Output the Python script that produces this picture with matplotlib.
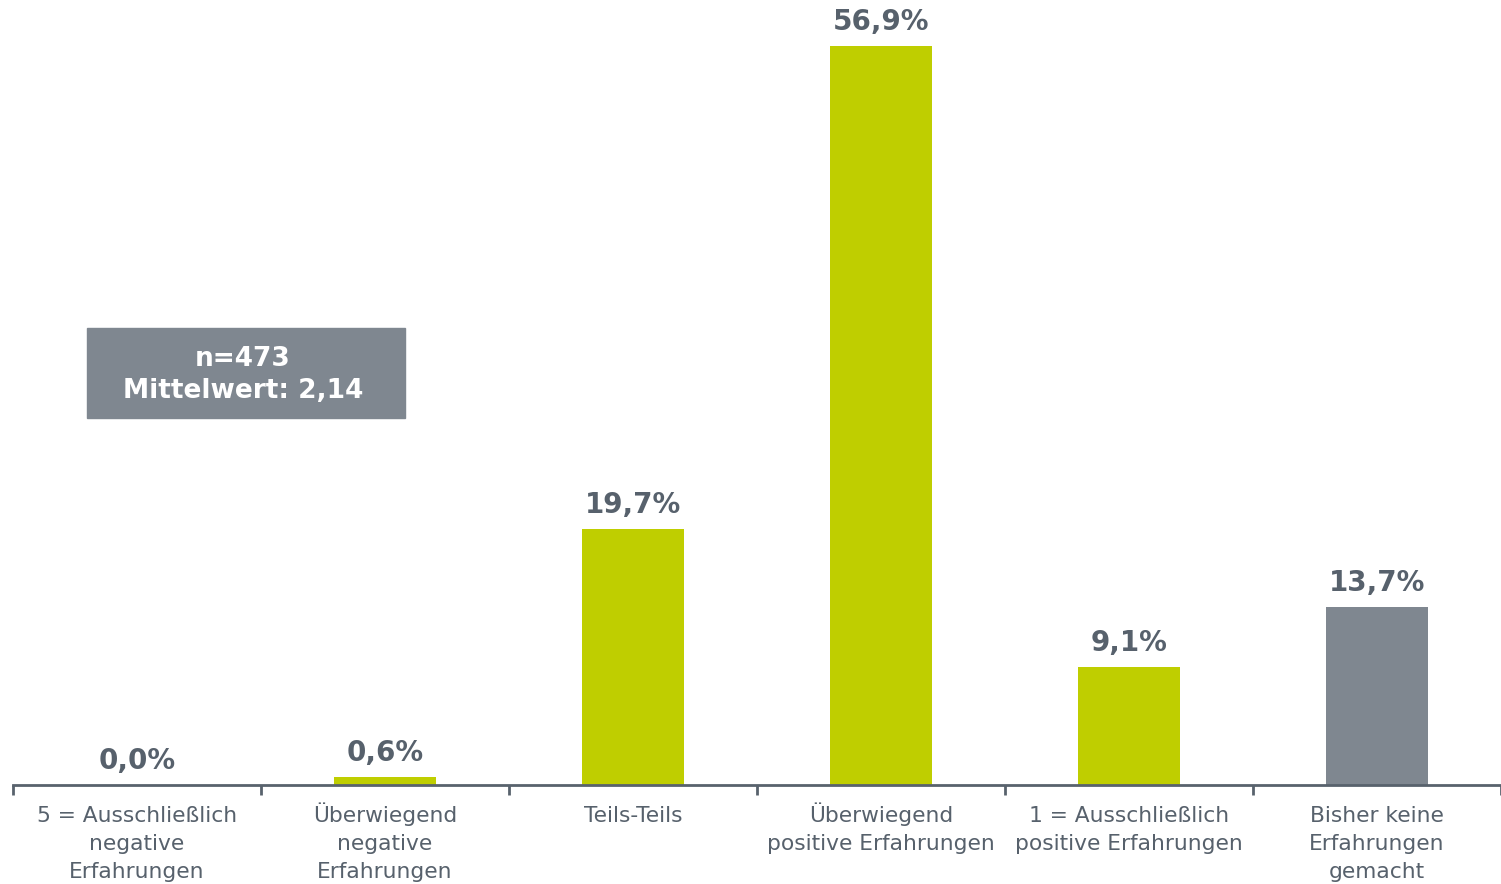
import matplotlib
matplotlib.use("Agg")
import matplotlib.pyplot as plt
import matplotlib.transforms as mtransforms
import numpy as np

categories = [
    "5 = Ausschließlich\nnegative\nErfahrungen",
    "Überwiegend\nnegative\nErfahrungen",
    "Teils-Teils",
    "Überwiegend\npositive Erfahrungen",
    "1 = Ausschließlich\npositive Erfahrungen",
    "Bisher keine\nErfahrungen\ngemacht",
]
values = [0.0, 0.6, 19.7, 56.9, 9.1, 13.7]
bar_colors = ["#BFCE00", "#BFCE00", "#BFCE00", "#BFCE00", "#BFCE00", "#7F8790"]
info_lines = ["n=473", "Mittelwert: 2,14"]

text_color = "#57616C"
axis_color = "#58626D"

plt.rcParams["font.family"] = ["DejaVu Sans"]

fig = plt.figure(figsize=(15.01, 8.84), dpi=100)
ax = fig.add_axes([13 / 1501, 99 / 884, 1 - 13 / 1501, 779 / 884])

x = np.arange(len(values))
bars = ax.bar(x, values, width=0.41, color=bar_colors, zorder=2)

# value labels: baseline a fixed number of pixels above each bar
for rect, v in zip(bars, values):
    ax.annotate(f"{v:.1f}%".replace(".", ","),
                xy=(rect.get_x() + rect.get_width() / 2, rect.get_height()),
                xytext=(0, 16 * 72 / fig.dpi), textcoords="offset points",
                ha="center", va="baseline", fontsize=20, fontweight="bold",
                color=text_color)

ax.set_xlim(-0.5, len(values) - 0.5)
ax.set_ylim(0, 60)

for side in ("top", "right", "left"):
    ax.spines[side].set_visible(False)
ax.spines["bottom"].set_color(axis_color)
ax.spines["bottom"].set_linewidth(2)
ax.set_yticks([])

# ticks sit on the category boundaries
ax.set_xticks(np.arange(len(values) + 1) - 0.5)
ax.set_xticklabels([])
ax.tick_params(axis="x", which="major", length=7, width=2, color=axis_color)

# category labels, one text per line so every line shares a common baseline
base = ax.get_xaxis_transform()
for xi, label in zip(x, categories):
    for k, line in enumerate(label.split("\n")):
        tr = mtransforms.offset_copy(base, fig=fig, x=0, y=-(37 + 28 * k),
                                     units="dots")
        ax.text(xi, 0, line, transform=tr, ha="center", va="baseline",
                fontsize=15.7, color=text_color)

# summary box
fig.patches.append(plt.Rectangle((87 / 1501, 1 - 418 / 884), 318 / 1501, 90 / 884,
                                 transform=fig.transFigure, color="#7F8790",
                                 zorder=1))
for line, ypx in zip(info_lines, (366, 398)):
    fig.text(243 / 1501, 1 - ypx / 884, line, ha="center", va="baseline",
             fontsize=19, fontweight="bold", color="white")

fig.savefig("out.png", dpi=100)
